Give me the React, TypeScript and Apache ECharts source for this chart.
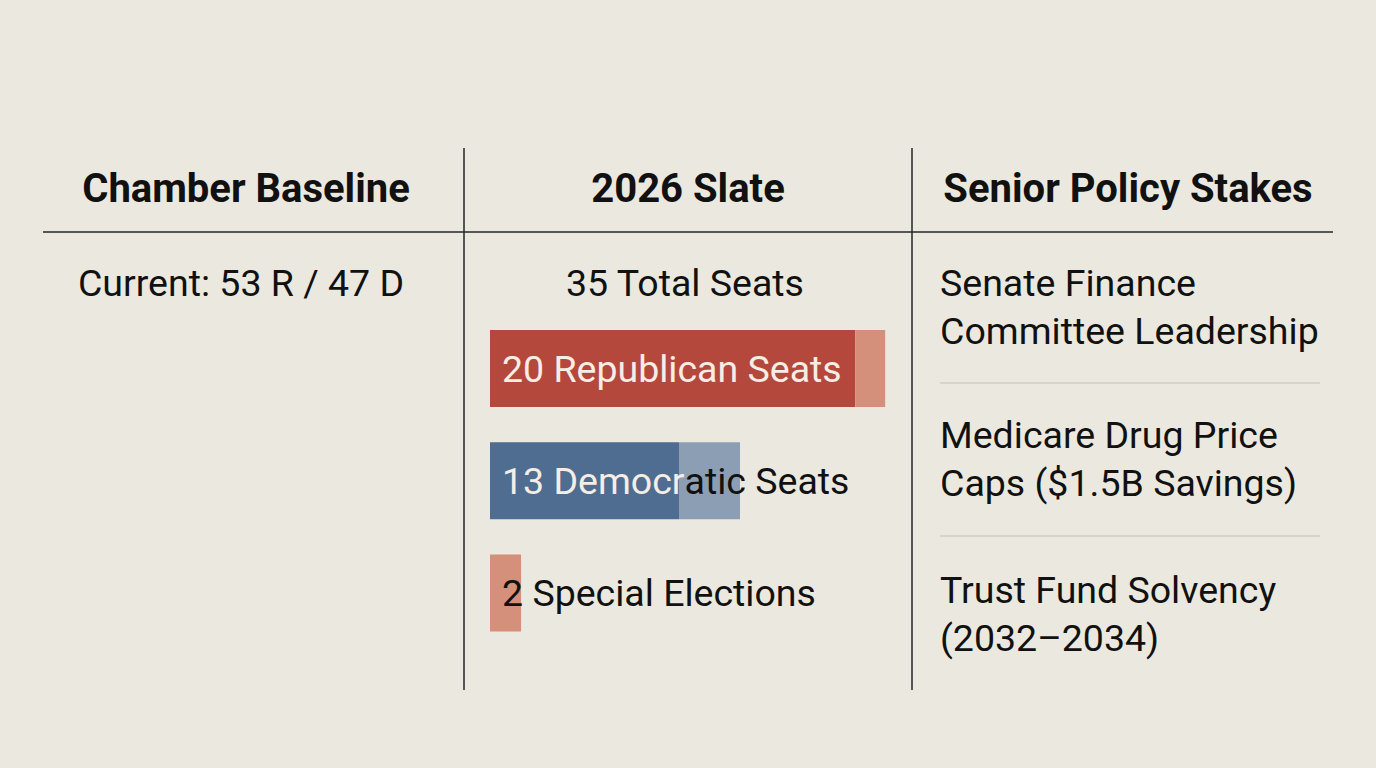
import React, { useEffect, useRef } from 'react';
import * as echarts from 'echarts';

// rows of the "2026 Slate" column
const slateRows = ['Republican', 'Democratic', 'Special'];
const solidSeats = [20, 10.35, 0];
const tintSeats = [1.64, 3.34, 1.7];
const labelLight = ['20 Republican Seats', '13 Democr', ''];
const labelDark = ['', 'atic Seats', '2 Special Elections'];

const headers = ['Chamber Baseline', '2026 Slate', 'Senior Policy Stakes'];
const baselineText = 'Current: 53 R / 47 D';
const slateTotal = '35 Total Seats';
const stakes = [
    ['Senate Finance', 'Committee Leadership'],
    ['Medicare Drug Price', 'Caps ($1.5B Savings)'],
    ['Trust Fund Solvency', '(2032\u20132034)'],
];

const FONT = 'Roboto, "Liberation Sans", Arial, sans-serif';
const INK = '#111111';

const App: React.FC = () => {
    const chartRef = useRef<HTMLDivElement>(null);

    useEffect(() => {
        if (!chartRef.current) return;
        const chart = echarts.init(chartRef.current, undefined, { renderer: 'svg' });

        const headerX = [246, 688, 1128];
        const graphic: any[] = [
            // column rules
            { type: 'line', shape: { x1: 464, y1: 148, x2: 464, y2: 690 }, style: { stroke: '#252525', lineWidth: 1.5 } },
            { type: 'line', shape: { x1: 912, y1: 148, x2: 912, y2: 690 }, style: { stroke: '#252525', lineWidth: 1.5 } },
            { type: 'line', shape: { x1: 43, y1: 232, x2: 1333, y2: 232 }, style: { stroke: '#252525', lineWidth: 1.5 } },
            { type: 'line', shape: { x1: 940, y1: 383, x2: 1320, y2: 383 }, style: { stroke: '#c3c1b6', lineWidth: 1 } },
            { type: 'line', shape: { x1: 940, y1: 536, x2: 1320, y2: 536 }, style: { stroke: '#c3c1b6', lineWidth: 1 } },
            ...headers.map((h, i) => ({
                type: 'text',
                x: headerX[i],
                y: 188,
                style: {
                    text: h, fill: INK, font: `bold 40px ${FONT}`,
                    textAlign: 'center', textVerticalAlign: 'middle',
                },
            })),
            {
                type: 'text', x: 241, y: 283,
                style: { text: baselineText, fill: INK, font: `37.5px ${FONT}`, textAlign: 'center', textVerticalAlign: 'middle' },
            },
            {
                type: 'text', x: 685, y: 283,
                style: { text: slateTotal, fill: INK, font: `37.5px ${FONT}`, textAlign: 'center', textVerticalAlign: 'middle' },
            },
        ];
        const blockY = [283, 435, 590];
        stakes.forEach((lines, i) => {
            lines.forEach((t, j) => {
                graphic.push({
                    type: 'text', x: 940, y: blockY[i] + j * 48,
                    style: { text: t, fill: INK, font: `37.5px ${FONT}`, textAlign: 'left', textVerticalAlign: 'middle' },
                });
            });
        });

        const option: echarts.EChartsOption = {
            animation: false,
            backgroundColor: '#ebe9df',
            grid: { left: 490, width: 420, top: 312.4, height: 336.75 },
            xAxis: { type: 'value', min: 0, max: 23, show: false },
            yAxis: { type: 'category', data: slateRows, inverse: true, show: false },
            graphic,
            series: [
                {
                    name: 'solid',
                    type: 'bar',
                    stack: 'seats',
                    barWidth: 77,
                    data: solidSeats.map((v, i) => ({
                        value: v,
                        itemStyle: { color: i === 0 ? '#b5483c' : '#4f6d91' },
                    })),
                },
                {
                    name: 'tint',
                    type: 'bar',
                    stack: 'seats',
                    barWidth: 77,
                    data: tintSeats.map((v, i) => ({
                        value: v,
                        itemStyle: { color: i === 1 ? '#8c9eb3' : '#d4907a' },
                    })),
                },
                {
                    name: 'labels',
                    type: 'bar',
                    barWidth: 77,
                    barGap: '-100%',
                    silent: true,
                    itemStyle: { color: 'rgba(0,0,0,0)' },
                    data: solidSeats.map((v, i) => v + tintSeats[i]),
                    label: {
                        show: true,
                        position: 'insideLeft',
                        distance: 12,
                        formatter: (p: any) => {
                            const i = p.dataIndex;
                            let s = '';
                            if (labelLight[i]) s += `{w|${labelLight[i]}}`;
                            if (labelDark[i]) s += `{k|${labelDark[i]}}`;
                            return s;
                        },
                        rich: {
                            w: { color: '#f6ede6', fontSize: 37.5, fontFamily: FONT },
                            k: { color: INK, fontSize: 37.5, fontFamily: FONT },
                        },
                    },
                },
            ],
        };

        chart.setOption(option);
        const onResize = () => chart.resize();
        window.addEventListener('resize', onResize);
        return () => {
            window.removeEventListener('resize', onResize);
            chart.dispose();
        };
    }, []);

    return (
        <div
            ref={chartRef}
            style={{ position: 'fixed', left: 0, top: 0, width: 1376, height: 768 }}
        />
    );
};

export default App;
